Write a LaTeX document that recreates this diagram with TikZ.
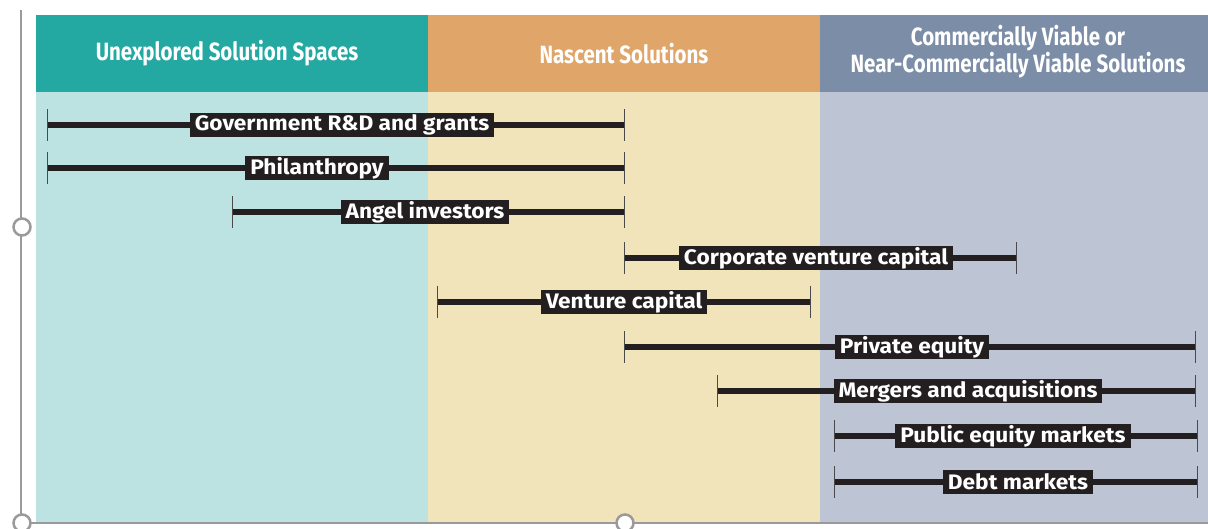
\documentclass[tikz,border=0pt]{standalone}
\usepackage{fontspec}
\setsansfont{Fira Sans}
\usepackage{graphicx}
\definecolor{tealH}{HTML}{24A9A2}
\definecolor{tealB}{HTML}{BCE3E2}
\definecolor{orngH}{HTML}{DFA569}
\definecolor{orngB}{HTML}{F1E4BA}
\definecolor{slatH}{HTML}{7B8DA7}
\definecolor{slatB}{HTML}{BDC4D3}
\definecolor{barblack}{HTML}{231F20}
\definecolor{tickgray}{HTML}{4A4A4A}
\definecolor{framegray}{HTML}{9A9A9A}
\newcommand{\hx}[1]{\scalebox{0.82}[1]{#1}}
\newcommand{\lx}[1]{\scalebox{1.08}[1]{#1}}
\begin{document}
\begin{tikzpicture}[x=1pt,y=-1pt,
  hdrbox/.style={draw=none, inner sep=0pt, minimum height=77pt, text=white, align=center,
    font=\sffamily\bfseries\fontsize{25}{25}\selectfont},
  bodybox/.style={draw=none, inner sep=0pt, minimum height=431pt},
  bar/.style={line width=6pt, draw=barblack},
  tick/.style={line width=1pt, draw=tickgray},
  lbl/.style={fill=barblack, text=white, inner xsep=5pt, inner ysep=0pt, minimum height=24pt,
    font=\sffamily\bfseries\fontsize{21}{21}\selectfont},
  handle/.style={circle, draw=framegray, line width=2.5pt, fill=white, minimum size=17pt, inner sep=0pt}]
\useasboundingbox (0,0) rectangle (1208,528);
% columns
\node[bodybox, fill=tealB, minimum width=392pt] (b1) at (232,307.5) {};
\node[bodybox, fill=orngB, minimum width=392pt] (b2) at (624,307.5) {};
\node[bodybox, fill=slatB, minimum width=388pt] (b3) at (1014,307.5) {};
\node[hdrbox, fill=tealH, minimum width=392pt] (h1) at (232,53.5) {\hx{Unexplored Solution Spaces}\hspace*{10pt}};
\node[hdrbox, fill=orngH, minimum width=392pt] (h2) at (624,53.5) {\hx{Nascent Solutions}};
\node[hdrbox, fill=slatH, minimum width=388pt] (h3) at (1014,53.5) {};
\node[text=white, align=center, font=\sffamily\bfseries\fontsize{25}{25}\selectfont, inner sep=0pt] (h3t) at (1018,52)
  {\hx{Commercially Viable or}\\[0pt]\hx{Near-Commercially Viable Solutions}};
% frame
\coordinate (ft) at (21,10);
\coordinate (fc) at (21,523);
\coordinate (fr) at (1208,523);
\draw[framegray, line width=1.5pt] (ft) -- (fc) -- (fr);
% bars
\foreach \n/\y/\a/\b/\c/\t in {
  1/125/47/624/342/{Government R\&D and grants},
  2/168/47/624/317/{Philanthropy},
  3/212/232/624/425/{Angel investors},
  4/258/624/1016/816/{Corporate venture capital},
  5/302/437/810/624/{Venture capital},
  6/347/624/1195/912/{Private equity},
  7/391/717/1195/968/{Mergers and acquisitions},
  8/436/834/1197/1013/{Public equity markets},
  9/482/834/1197/1018/{Debt markets}}{
  \coordinate (s\n) at (\a,\y);
  \coordinate (e\n) at (\b,\y);
  \draw[bar] (s\n) -- (e\n);
  \draw[tick] ([yshift=16pt]s\n) -- ([yshift=-16pt]s\n);
  \draw[tick] ([yshift=16pt]e\n) -- ([yshift=-16pt]e\n);
  \node[lbl] (l\n) at (\c,\y) {\lx{\t}};
}
% handles
\node[handle] (k1) at (22,227) {};
\node[handle] (k2) at (22,523) {};
\node[handle] (k3) at (625,523) {};
\end{tikzpicture}
\end{document}
